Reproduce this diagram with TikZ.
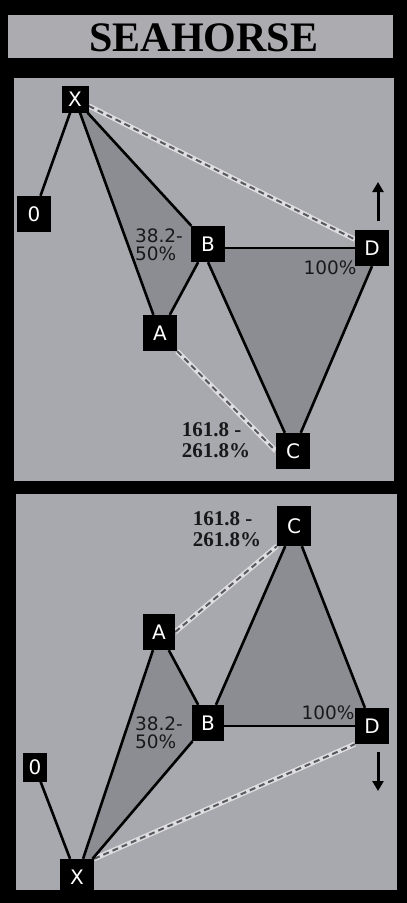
\documentclass[tikz,border=0pt]{standalone}
\usepackage{fontspec}
\setmainfont{Liberation Serif}
\newfontfamily\markfont{DejaVu Sans}
\usetikzlibrary{arrows.meta,backgrounds}

\definecolor{panelgrey}{RGB}{168,169,174}
\definecolor{zonegrey}{RGB}{140,141,146}
\definecolor{titlegrey}{RGB}{172,172,176}
\definecolor{dashgrey}{RGB}{88,88,94}
\definecolor{guidewhite}{RGB}{222,222,225}
\definecolor{labelblack}{RGB}{25,25,28}

\tikzset{
    pivot/.style={fill=black, text=white, font=\markfont\fontsize{20}{20}\selectfont, inner sep=0pt, minimum width=34pt, minimum height=36pt},
    leg/.style={draw=black, line width=2.6pt, line join=round},
    zone/.style={fill=zonegrey},
    guide/.style={draw=dashgrey, line width=2pt, dash pattern=on 6pt off 4pt, preaction={draw=guidewhite, line width=5pt, solid}},
    ratio/.style={text=labelblack, font=\markfont\fontsize{18.5}{18}\selectfont, align=left, inner sep=0pt},
    ext/.style={text=labelblack, font=\bfseries\fontsize{21}{21}\selectfont, align=left, inner sep=0pt},
    trend/.style={line width=3pt, -{Triangle[width=11pt,length=10pt]}},
}

\begin{document}
\begin{tikzpicture}[x=1pt, y=-1pt]
    % Frame, title bar and the two panels
    \begin{scope}[on background layer]
        \fill[black] (0,0) rectangle (407,903);
        \fill[titlegrey] (8,15) rectangle (393,58);
        \fill[panelgrey] (14,78) rectangle (394,481);
        \fill[panelgrey] (16,494) rectangle (397,890);
    \end{scope}
    \useasboundingbox (0,0) rectangle (407,903);

    % Title
    \node (title) at (204,38) {\fontsize{42}{42}\selectfont\bfseries SEAHORSE};

    % Top panel: ratios
    \node[ratio] (r1) at (159,245) {38.2-\\50\%};
    \node[ratio] (p1) at (330,268) {100\%};
    \node[ext] (e1) at (216,440) {161.8 -\\261.8\%};

    % Top panel: points
    \node[pivot] (o1) at (34,214) {0};
    \node[pivot, minimum width=27pt, minimum height=27pt] (x1) at (75,99) {X};
    \node[pivot] (a1) at (160,333) {A};
    \node[pivot] (b1) at (208,244) {B};
    \node[pivot] (c1) at (293,451) {C};
    \node[pivot] (d1) at (372,248) {D};

    % Bottom panel: ratios
    \node[ratio] (r2) at (159,733) {38.2-\\50\%};
    \node[ratio] (p2) at (328,713) {100\%};
    \node[ext] (e2) at (227,529) {161.8 -\\261.8\%};

    % Bottom panel: points
    \node[pivot, minimum width=24pt, minimum height=29pt] (o2) at (35,767) {0};
    \node[pivot] (x2) at (77,877) {X};
    \node[pivot, minimum width=32pt] (a2) at (159,632) {A};
    \node[pivot, minimum width=32pt] (b2) at (208,723) {B};
    \node[pivot, minimum height=40pt] (c2) at (294,526) {C};
    \node[pivot] (d2) at (372,726) {D};

    % Legs, zones and guides behind the points
    \begin{scope}[on background layer]
        \fill[zone] (x1.center) -- (a1.center) -- (b1.center) -- cycle;
        \fill[zone] (b1.south) -- (b1.east |- d1.center) -- (d1.center) -- (d1.south) -- (c1.center) -- cycle;
        \draw[guide] (x1) -- (d1);
        \draw[guide] (a1.south east) -- (c1.west);
        \draw[leg] (o1) -- (x1);
        \draw[leg] (x1) -- (a1);
        \draw[leg] (x1) -- (b1);
        \draw[leg] (a1) -- (b1);
        \draw[leg] (b1.east |- d1) -- (d1);
        \draw[leg] (b1.south) -- (c1);
        \draw[leg] (d1.south) -- (c1);

        \fill[zone] (x2.center) -- (a2.center) -- (b2.center) -- cycle;
        \fill[zone] (b2.center) -- (c2.center) -- (d2.center) -- (b2.east |- d2.center) -- cycle;
        \draw[guide] (a2.east) -- (c2.south west);
        \draw[guide] (x2.north east) -- (d2.south west);
        \draw[leg] (o2) -- (x2);
        \draw[leg] (x2) -- (a2);
        \draw[leg] (x2) -- (b2);
        \draw[leg] (a2) -- (b2);
        \draw[leg] (b2.east |- d2) -- (d2);
        \draw[leg] (b2) -- (c2);
        \draw[leg] (c2) -- (d2);
    \end{scope}

    % Direction arrows
    \coordinate (up0) at (378,221);
    \coordinate (up1) at (378,182);
    \draw[trend] (up0) -- (up1);
    \coordinate (dn0) at (378,752);
    \coordinate (dn1) at (378,791);
    \draw[trend] (dn0) -- (dn1);
\end{tikzpicture}
\end{document}
